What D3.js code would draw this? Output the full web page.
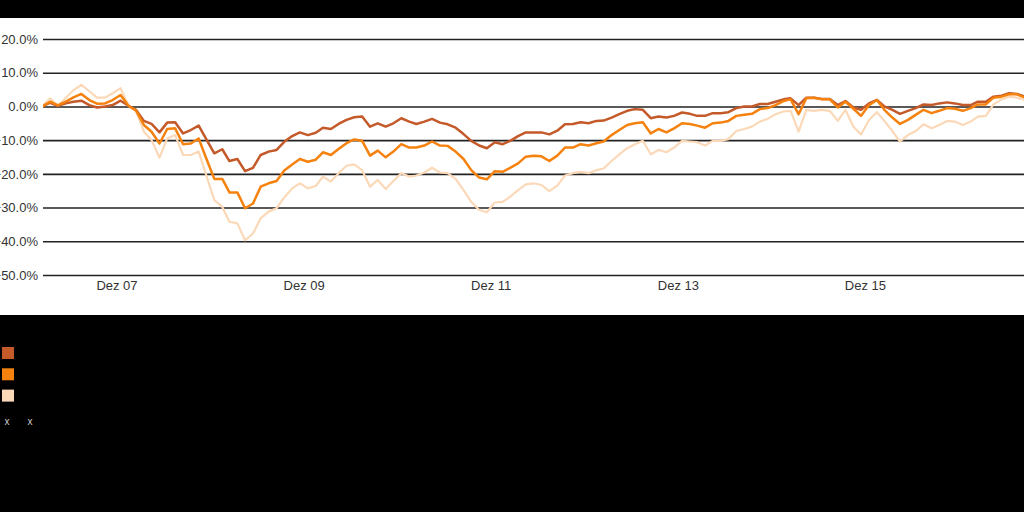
<!DOCTYPE html>
<html><head><meta charset="utf-8">
<script src="https://cdn.jsdelivr.net/npm/d3@7"></script>
<style>html,body{margin:0;padding:0;background:#000;}svg{display:block;}</style>
</head><body>
<svg id="c" width="1024" height="512"></svg>
<script>
// ---- data (monthly, % change, starting Mar 2007) ----
const startYear = 2007, startMonth = 2; // March 2007
const seriesDark = [0,1.1,0.2,0.9,1.4,1.7,0.4,-0.3,0,0.4,1.7,0.2,-1,-4.3,-5.2,-7.7,-4.8,-4.7,-8,-7,-5.7,-9.8,-13.9,-12.7,-16.2,-15.6,-19.2,-18.2,-14.4,-13.4,-12.9,-10.5,-8.8,-7.7,-8.5,-7.8,-6.3,-6.7,-5.2,-4,-3.2,-3,-6,-5,-6,-5,-3.5,-4.5,-5.2,-4.5,-3.7,-4.8,-5.3,-6.3,-8.2,-10.2,-11.6,-12.4,-10.6,-11.2,-10.2,-8.8,-7.7,-7.7,-7.7,-8.3,-7.2,-5.3,-5.2,-4.7,-5,-4.3,-4.2,-3.3,-2.3,-1.3,-0.8,-1,-3.5,-3,-3.3,-2.8,-1.8,-2.2,-2.8,-2.8,-2,-2,-1.7,-0.5,0,0,0.7,0.7,1.4,2.1,2.4,0.4,2.6,2.6,2.2,2.2,0.4,1.6,-0.3,-1,0.9,1.9,0,-1,-2.2,-1.3,-0.5,0.6,0.4,0.9,1.2,0.9,0.4,0.4,1.4,1.4,2.9,3.2,3.9,3.7,2.9];
const seriesMid = [0,1.4,0.3,1.4,2.7,3.7,1.9,0.8,0.9,1.9,3.4,0.2,-1.2,-5.5,-7.5,-11,-6.7,-6.5,-11.2,-11,-9.5,-15.5,-21.5,-21.5,-25.5,-25.5,-30.2,-28.8,-23.8,-22.8,-22.1,-19,-17.2,-15.6,-16.4,-15.8,-13.6,-14.4,-12.6,-10.9,-9.8,-10.2,-14.6,-13.1,-15.1,-13.4,-11.2,-12.2,-12.2,-11.6,-10.4,-11.6,-11.7,-13.4,-15.6,-18.9,-21.1,-21.6,-19.2,-19.4,-18.2,-16.9,-14.9,-14.6,-14.8,-16.2,-14.6,-12.2,-12.2,-11.2,-11.6,-10.9,-10.4,-8.5,-7,-5.5,-5,-4.7,-8,-6.7,-7.7,-6.5,-5,-5.2,-5.7,-6.3,-5,-4.8,-4.3,-2.8,-2.5,-2.2,-0.8,-0.5,0.4,1.6,2.1,-2.3,2.4,2.6,2.1,2.1,-0.3,1.4,-0.7,-2.8,0.4,1.9,-1,-3.3,-5.2,-4,-2.5,-1,-2,-1.3,-0.5,-0.7,-1.3,-0.5,0.6,0.6,2.6,2.9,3.6,3.6,2.6];
const seriesLight = [0,2.4,0.2,2.5,4.8,6.4,4.5,2.6,2.6,3.9,5.4,0.2,-1.3,-7.5,-10,-15.2,-9.5,-8.5,-14.4,-14.4,-13.4,-20.5,-27.8,-29.8,-34.2,-34.7,-39.7,-37.7,-33.2,-31.2,-30.2,-27,-24.3,-22.8,-24.3,-23.6,-20.8,-22.3,-19.8,-17.6,-17.2,-18.9,-23.8,-21.8,-24.5,-22.1,-19.8,-20.8,-20.5,-19.6,-18.2,-19.6,-19.8,-21.5,-24.8,-28.3,-30.7,-31.4,-28.5,-28.3,-26.8,-24.8,-23.1,-22.8,-23.3,-25.1,-23.5,-20.5,-19.8,-19.4,-19.8,-18.9,-18.4,-16.2,-14.2,-12.4,-11.2,-10.2,-14.2,-12.9,-13.6,-12.2,-10.2,-10.4,-10.6,-11.6,-10.2,-10.2,-9.7,-7.3,-6.7,-6,-4.5,-3.7,-2.3,-1.5,-1.3,-7.5,-1,-1.3,-1,-1.3,-4.3,-1,-6,-8.3,-4,-1.7,-4.3,-7.3,-10.4,-8.5,-7.3,-5.3,-6.5,-5.5,-4.3,-4.5,-5.5,-4.5,-3,-2.8,0.6,2.1,2.9,2.6,1.9];
const yTicks = [20,10,0,-10,-20,-30,-40,-50];
const xTickLabels = ["Dez 07","Dez 09","Dez 11","Dez 13","Dez 15"];
const xTickYears = [2007,2009,2011,2013,2015];
const seriesColors = ["#c4592a","#f5820f","#fbd9b8"];
const legendMarks = ["x","x"];

const svg = d3.select("#c");
svg.append("rect").attr("x",0).attr("y",0).attr("width",1024).attr("height",512).attr("fill","#000");
svg.append("rect").attr("x",0).attr("y",18).attr("width",1024).attr("height",297).attr("fill","#fff");

const dates = seriesDark.map((_, i) => new Date(startYear, startMonth + i, 1));
const x = d3.scaleTime().domain([dates[0], dates[dates.length-1]]).range([42.2, 42.2 + 7.8*(dates.length-1)]);
const y = d3.scaleLinear().domain([-50, 20]).range([275, 39]);

// grid + y labels
const yAxis = d3.axisLeft(y).tickValues(yTicks).tickSize(-981).tickPadding(5)
  .tickFormat(d => d3.format(".1f")(d) + "%");
const gy = svg.append("g").attr("transform","translate(43,0)").call(yAxis);
gy.select(".domain").remove();
gy.selectAll("line").attr("stroke","#222").attr("stroke-width",1.6);
gy.selectAll("text").attr("fill","#333").style("font-family","'Liberation Sans',Arial,sans-serif").style("font-size","13px");

// x labels
const tickDates = xTickYears.map(yv => new Date(yv, 11, 16));
const xAxis = d3.axisBottom(x).tickValues(tickDates).tickSize(0).tickPadding(6)
  .tickFormat((d, i) => xTickLabels[i]);
const gx = svg.append("g").attr("transform","translate(0,275)").call(xAxis);
gx.select(".domain").remove();
gx.selectAll("text").attr("fill","#333").style("font-family","'Liberation Sans',Arial,sans-serif").style("font-size","13px");

// lines
svg.append("clipPath").attr("id","clip").append("rect").attr("x",43).attr("y",18).attr("width",981).attr("height",297);
const line = d3.line().x((d,i) => x(dates[i])).y(d => y(d));
const gl = svg.append("g").attr("clip-path","url(#clip)");
const order = [[seriesLight, seriesColors[2], 2.2],[seriesDark, seriesColors[0], 2.5],[seriesMid, seriesColors[1], 2.5]];
order.forEach(([s,c,w]) => {
  gl.append("path").datum(s).attr("d", line).attr("fill","none").attr("stroke",c)
    .attr("stroke-width",w).attr("stroke-linejoin","round");
});

// legend
seriesColors.forEach((c,i) => {
  svg.append("rect").attr("x",2).attr("y",347 + i*21.3).attr("width",12).attr("height",12).attr("fill",c);
});
legendMarks.forEach((m,i) => {
  svg.append("text").attr("x",7 + i*23).attr("y",425).attr("text-anchor","middle").attr("fill","#ccc")
    .style("font-family","'Liberation Sans',Arial,sans-serif").style("font-size","10px").text(m);
});
</script>
</body></html>
